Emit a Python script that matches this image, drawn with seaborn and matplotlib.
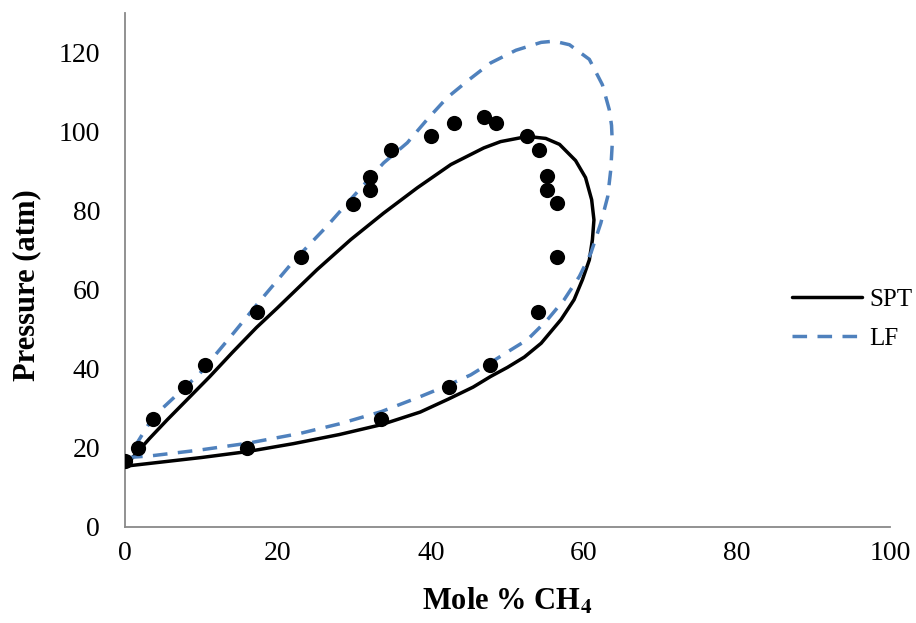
import matplotlib
matplotlib.use("Agg")
import matplotlib.pyplot as plt
import seaborn as sns
import pandas as pd

# Experimental data points (Mole % CH4, Pressure atm)
exp_x = [0.0, 1.7, 3.6, 7.9, 10.5, 17.2, 23.0, 29.8, 32.0, 32.0, 34.8, 40.0, 43.0,
         46.9, 48.5, 52.6, 54.1, 55.1, 55.1, 56.5, 56.5, 54.0, 47.7, 42.3, 33.5, 16.0]
exp_y = [16.5, 19.8, 27.2, 35.4, 40.9, 54.4, 68.3, 81.7, 85.1, 88.5, 95.4, 98.8, 102.1,
         103.5, 102.1, 98.9, 95.4, 88.6, 85.2, 81.8, 68.2, 54.4, 40.9, 35.4, 27.2, 19.8]

# SPT model envelope (solid)
spt_x = [0.0, 5.0, 10.0, 16.0, 22.0, 28.0, 33.5, 38.6, 42.3, 45.5, 47.8, 50.0, 52.2,
         54.4, 57.0, 58.7, 59.8, 60.7, 61.1, 61.3, 61.0, 60.2, 58.9, 56.8, 55.0, 52.6,
         49.1, 46.9, 42.6, 38.2, 33.8, 29.5, 25.1, 19.9, 17.2, 14.0, 11.1, 8.2, 5.5,
         3.2, 1.5, 0.0]
spt_y = [15.3, 16.4, 17.5, 19.0, 21.0, 23.3, 25.8, 29.0, 32.3, 35.3, 38.0, 40.3, 42.9,
         46.4, 52.4, 57.4, 62.5, 67.5, 72.6, 77.6, 82.7, 88.3, 92.6, 96.7, 98.2, 98.7,
         97.4, 95.8, 91.6, 85.7, 79.3, 72.6, 65.0, 55.3, 50.4, 44.0, 38.0, 32.3, 27.0,
         22.3, 18.6, 15.3]

# LF model envelope (dashed)
lf_x = [0.4, 3.3, 9.8, 16.0, 22.9, 28.0, 33.5, 38.6, 42.0, 45.2, 47.7, 50.0, 52.6,
        55.2, 57.4, 59.4, 60.9, 62.2, 63.1, 63.5, 63.7, 63.6, 63.3, 62.4, 60.7, 58.1,
        56.1, 54.4, 51.1, 47.8, 45.0, 42.1, 39.5, 36.9, 33.8, 29.5, 26.4, 22.0, 17.2,
        14.2, 9.8, 3.7, 0.4]
lf_y = [17.5, 17.9, 19.4, 21.1, 23.6, 26.0, 29.1, 32.9, 35.6, 38.4, 41.4, 44.2, 47.3,
        52.3, 57.4, 63.3, 69.2, 76.8, 83.5, 90.3, 97.1, 101.5, 105.5, 111.8, 118.2, 121.9,
        122.8, 122.5, 120.5, 117.3, 113.1, 108.5, 103.0, 97.1, 92.0, 82.8, 76.0, 67.1, 56.1,
        49.0, 38.8, 27.8, 17.5]

x_ticks = [0, 20, 40, 60, 80, 100]
y_ticks = [0, 20, 40, 60, 80, 100, 120]

sns.set_style("white")
plt.rcParams["font.family"] = ["Liberation Serif", "DejaVu Serif"]
plt.rcParams["mathtext.fontset"] = "stix"
plt.rcParams["text.color"] = "black"
plt.rcParams["axes.labelcolor"] = "black"

fig = plt.figure(figsize=(9.16, 6.23), dpi=100)
ax = fig.add_axes([125 / 916, 1 - 526.7 / 623, (890 - 125) / 916, (526.7 - 12.7) / 623])

exp_df = pd.DataFrame({"x": exp_x, "y": exp_y})
spt_df = pd.DataFrame({"x": spt_x, "y": spt_y})
lf_df = pd.DataFrame({"x": lf_x, "y": lf_y})

blue = "#4F81BD"
sns.lineplot(data=spt_df, x="x", y="y", sort=False, estimator=None, ax=ax,
             color="black", lw=2.5, label="SPT", zorder=2,
             solid_joinstyle="round", solid_capstyle="round")
sns.lineplot(data=lf_df, x="x", y="y", sort=False, estimator=None, ax=ax,
             color=blue, lw=2.5, linestyle=(0, (4.2, 3.0)), label="LF", zorder=2,
             dash_joinstyle="round")
sns.scatterplot(data=exp_df, x="x", y="y", ax=ax, color="black", s=120,
                linewidth=0, zorder=3, legend=False)

ax.set_xlim(0, 100)
ax.set_ylim(0, 130)
ax.set_xticks(x_ticks)
ax.set_yticks(y_ticks)
ax.set_xticklabels([str(v) for v in x_ticks])
ax.set_yticklabels([str(v) for v in y_ticks])

for side in ["top", "right"]:
    ax.spines[side].set_visible(False)
for side in ["left", "bottom"]:
    ax.spines[side].set_color("#898989")
    ax.spines[side].set_linewidth(1.3)

ax.tick_params(axis="both", which="major", direction="out", color="#898989",
               width=1.3, labelsize=20, labelcolor="black")
ax.tick_params(axis="y", length=6, pad=12)
ax.tick_params(axis="x", length=5, pad=5)

ax.set_xlabel(r"Mole % CH$_\mathbf{4}$", fontsize=22, fontweight="bold", color="black")
ax.set_ylabel("Pressure (atm)", fontsize=22, fontweight="bold", color="black")
ax.xaxis.set_label_coords(0.5, -0.117)
ax.yaxis.set_label_coords(-0.129, 0.47)
ax.yaxis.label.set_va("center")

handles, labels = ax.get_legend_handles_labels()
leg = ax.legend(handles[:2], labels[:2], loc="center left",
                bbox_to_anchor=(792 / 916, 1 - 319 / 623), bbox_transform=fig.transFigure,
                frameon=False, fontsize=18, handlelength=2.8, handletextpad=0.3,
                labelspacing=0.65, borderaxespad=0, borderpad=0)
for t in leg.get_texts():
    t.set_color("black")

fig.savefig("out.png", dpi=100)
